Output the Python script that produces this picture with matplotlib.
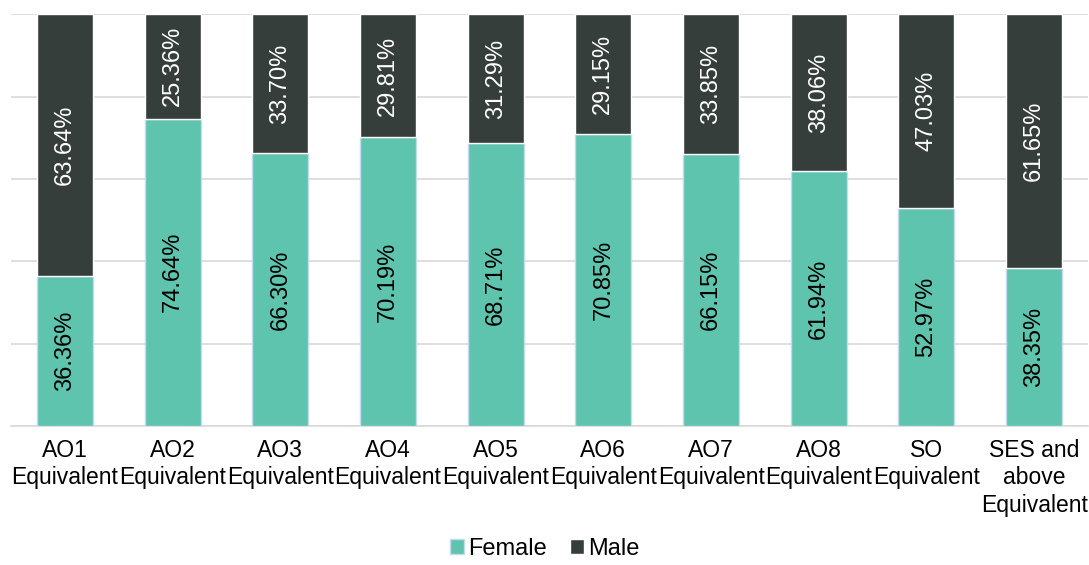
import matplotlib.pyplot as plt
import numpy as np

plt.rcParams['font.family'] = ['Liberation Sans', 'DejaVu Sans']

categories = ['AO1\nEquivalent', 'AO2\nEquivalent', 'AO3\nEquivalent', 'AO4\nEquivalent',
              'AO5\nEquivalent', 'AO6\nEquivalent', 'AO7\nEquivalent', 'AO8\nEquivalent',
              'SO\nEquivalent', 'SES and\nabove\nEquivalent']
female = [36.36, 74.64, 66.30, 70.19, 68.71, 70.85, 66.15, 61.94, 52.97, 38.35]
male = [63.64, 25.36, 33.70, 29.81, 31.29, 29.15, 33.85, 38.06, 47.03, 61.65]

FEMALE_COLOR = '#5fc4ae'
MALE_COLOR = '#363e3b'

fig = plt.figure(figsize=(10.89, 5.65), dpi=100)
ax = fig.add_axes([0.0101, 0.246, 0.989, 0.729])

x = np.arange(len(categories))
width = 0.52
b1 = ax.bar(x, female, width, color=FEMALE_COLOR, edgecolor='#c5d9ef', linewidth=1, label='Female', zorder=3)
b2 = ax.bar(x, male, width, bottom=female, color=MALE_COLOR, edgecolor='white', linewidth=1, label='Male', zorder=3)

for i in range(len(categories)):
    ax.text(x[i], female[i] / 2, f'{female[i]:.2f}%', rotation=90, ha='center', va='center',
            fontsize=17, color='black', zorder=4)
    ax.text(x[i], female[i] + male[i] / 2, f'{male[i]:.2f}%', rotation=90, ha='center', va='center',
            fontsize=17, color='white', zorder=4)

ax.set_ylim(0, 100)
ax.set_xlim(-0.5, len(categories) - 0.5)
ax.set_yticks(np.arange(0, 101, 20))
ax.set_yticklabels([])
ax.tick_params(axis='y', length=0)
ax.tick_params(axis='x', length=0, labelsize=16.5, pad=9)
ax.set_xticks(x)
ax.set_xticklabels(categories, linespacing=1.27)
ax.grid(axis='y', color='#d9d9d9', linewidth=1.2, zorder=0)
for s in ['top', 'right', 'left']:
    ax.spines[s].set_visible(False)
ax.spines['bottom'].set_color('#d9d9d9')
ax.spines['bottom'].set_linewidth(1.2)

fig.legend(handles=[b1, b2], labels=['Female', 'Male'], loc='lower center', bbox_to_anchor=(0.5, -0.028),
           ncol=2, frameon=False, fontsize=17, handlelength=0.6, handleheight=0.6,
           handletextpad=0.15, columnspacing=1.0)

fig.savefig('out.png', dpi=100)
